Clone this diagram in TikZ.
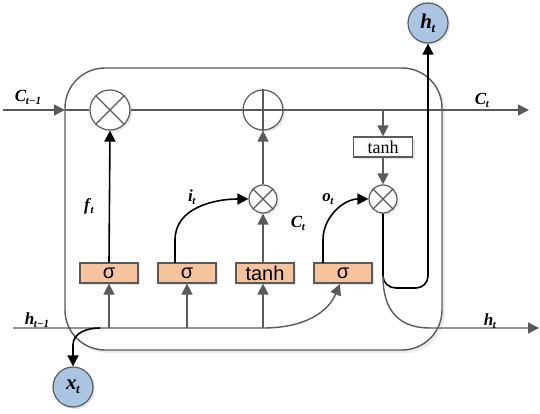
\documentclass[tikz,border=0pt]{standalone}
\usepackage{fontspec}
\setmainfont{Liberation Serif}
\newfontfamily\gatefont{Liberation Sans}
\usetikzlibrary{arrows.meta,shadows}
\definecolor{lgray}{HTML}{5A5A5A}
\definecolor{gatefill}{HTML}{F5C49C}
\definecolor{bluefill}{HTML}{A9C5E2}
\newcommand{\lab}[2]{\textbf{\textit{#1}}\kern-0.5pt\raisebox{-0.4ex}{\fontsize{11}{12}\selectfont\textbf{\textit{#2}}}}
\newcommand{\biglab}[2]{\textbf{\textit{#1}}\kern-0.5pt\raisebox{-0.4ex}{\fontsize{13}{13}\selectfont\textbf{\textit{#2}}}}
\tikzset{
  gline/.style={draw=lgray,line width=1.4pt},
  bline/.style={draw=black,line width=1.6pt},
  garrow/.style={gline,-{Triangle[length=11pt,width=11pt]}},
  barrow/.style={bline,-{Triangle[length=11pt,width=11pt]}},
  gatebox/.style={draw=lgray,line width=1.2pt,fill=gatefill,minimum width=58pt,minimum height=20pt,inner sep=0pt,font=\gatefont\fontsize{20}{20}\selectfont,drop shadow={opacity=0.2,shadow xshift=2pt,shadow yshift=-2pt}},
  opcirc/.style={circle,draw=lgray,line width=1.2pt,fill=white,inner sep=0pt,drop shadow={opacity=0.2,shadow xshift=2pt,shadow yshift=-2pt}},
  iocirc/.style={circle,draw=lgray,line width=1.2pt,fill=bluefill,minimum size=40pt,inner sep=0pt,font=\fontsize{21}{21}\selectfont,drop shadow={opacity=0.2,shadow xshift=2pt,shadow yshift=-2pt}},
  lbl/.style={font=\fontsize{17}{17}\selectfont,inner sep=0pt},
}
\begin{document}
\begin{tikzpicture}[x=1pt,y=-1pt]
\useasboundingbox (0,0) rectangle (540,414);
% main cell
\draw[draw=lgray,line width=1.4pt,rounded corners=40pt,drop shadow={opacity=0.15,shadow xshift=3pt,shadow yshift=-3pt},fill=white] (65,68) rectangle (442,350);
% nodes
\node[opcirc,minimum size=40pt] (mul1) at (110,110) {};
\node[opcirc,minimum size=40pt] (add) at (263,110) {};
\node[opcirc,minimum size=28pt] (muli) at (263,199) {};
\node[opcirc,minimum size=28pt] (mulo) at (383,199) {};
\draw[lgray,line width=1.2pt] (mul1.45)--(mul1.225) (mul1.135)--(mul1.315);
\draw[lgray,line width=1.2pt] (add.north)--(add.south) (add.west)--(add.east);
\draw[lgray,line width=1.1pt] (muli.45)--(muli.225) (muli.135)--(muli.315);
\draw[lgray,line width=1.1pt] (mulo.45)--(mulo.225) (mulo.135)--(mulo.315);
\node[draw=lgray,line width=1.2pt,fill=white,minimum width=59pt,minimum height=20pt,inner sep=0pt,font=\fontsize{18}{18}\selectfont,drop shadow={opacity=0.2,shadow xshift=2pt,shadow yshift=-2pt}] (tanhc) at (383,147) {tanh};
\node[gatebox] (sig1) at (109,273) {σ};
\node[gatebox] (sig2) at (187,273) {σ};
\node[gatebox] (tanhg) at (265,273) {tanh};
\node[gatebox] (sig3) at (343,273) {σ};
\node[iocirc] (ht) at (428,23) {\biglab{h}{t}};
\node[iocirc] (xt) at (73,387) {\biglab{x}{t}};
% coordinates
\coordinate (cin) at (3,110);
\coordinate (cedge) at (65,110);
\coordinate (cout) at (529,110);
\coordinate (ctap) at (383,110);
\coordinate (hin) at (13,328);
\coordinate (h1) at (109,328);
\coordinate (h2) at (187,328);
\coordinate (h3) at (263,328);
\coordinate (hout) at (539,328);
\coordinate (xtap) at (100,328);
\coordinate (obend) at (383,276);
% cell state
\draw[garrow] (cin) -- (cedge);
\draw[gline] (cedge) -- (mul1.west);
\draw[gline] (mul1.east) -- (add.west);
\draw[garrow] (add.east) -- (cout);
\draw[garrow] (ctap) -- (tanhc.north);
\draw[garrow] (tanhc.south) -- (mulo.north);
% hidden input line
\draw[garrow] (hin) -- (h3) .. controls (305,328) and (328,312) .. (340,284);
\draw[garrow] (h1) -- (sig1.south);
\draw[garrow] (h2) -- (sig2.south);
\draw[garrow] (h3) -- (h3 |- tanhg.south);
% x_t
\draw[barrow] (xtap) to[out=180,in=90] (73,345) -- (xt.north);
% gate outputs
\draw[barrow] (sig1.north) -- (mul1.south);
\draw[barrow] (175,263) -- (175,240) to[out=90,in=180] (muli.west);
\draw[garrow] (muli |- tanhg.north) -- (muli.south);
\draw[garrow] (muli.north) -- (add.south);
\draw[barrow] (323,263) -- (323,240) to[out=90,in=180] (mulo.west);
% output
\draw[bline] (mulo.south) -- (obend) to[out=-90,in=180] (396,288) -- (416,288) to[out=0,in=-90] (428,276);
\draw[barrow] (428,277) -- (ht.south);
\draw[garrow] (obend) .. controls (383,312) and (400,328) .. (430,328) -- (hout);
% labels
\node[lbl] at (28,97) {\lab{C}{t−1}};
\node[lbl] at (37,320) {\lab{h}{t−1}};
\node[lbl] at (490,321) {\lab{h}{t}};
\node[lbl] at (482,100) {\lab{C}{t}};
\node[lbl] at (89,206) {\lab{f}{t}};
\node[lbl] at (192,197) {\lab{i}{t}};
\node[lbl] at (298,223) {\lab{C}{t}};
\node[lbl] at (328,199) {\lab{o}{t}};
\end{tikzpicture}
\end{document}
